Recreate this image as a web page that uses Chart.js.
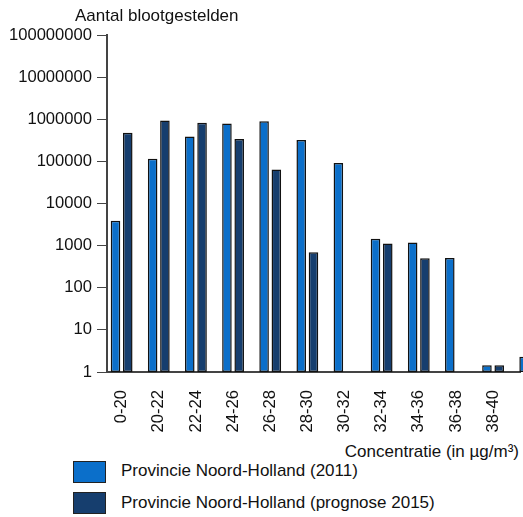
<!DOCTYPE html>
<html>
<head>
<meta charset="utf-8">
<script src="https://cdn.jsdelivr.net/npm/chart.js@4"></script>
<style>
    body { margin: 0; width: 523px; height: 517px; overflow: hidden; background: #fff;
           font-family: Arial, "Liberation Sans", sans-serif; color: #111; }
    #wrap { position: relative; width: 523px; height: 517px; }
    #expoChart { position: absolute; left: 0; top: 0; }
    .label { position: absolute; font-size: 17px; white-space: nowrap; line-height: 18px; }
    .box { position: absolute; width: 31px; height: 20px; border: 1px solid #222; }
</style>
</head>
<body>
<div id="wrap">
    <canvas id="expoChart" width="523" height="442"></canvas>
    <div class="label" style="left:75px; top:7px;">Aantal blootgestelden</div>
    <div class="label" style="right:4px; top:443px;">Concentratie (in µg/m³)</div>
    <div class="box" style="left:73px; top:461px; background:#0b6fca;"></div>
    <div class="label" style="left:121px; top:462px;">Provincie Noord-Holland (2011)</div>
    <div class="box" style="left:73px; top:492px; background:#163e6e;"></div>
    <div class="label" style="left:121px; top:494px;">Provincie Noord-Holland (prognose 2015)</div>
</div>
<script>
// Concentration classes (µg/m³) and number of exposed people per class
const categories = ['0-20', '20-22', '22-24', '24-26', '26-28', '28-30', '30-32', '32-34', '34-36', '36-38', '38-40', '40-42'];
const values2011 = [3900, 115000, 390000, 790000, 900000, 320000, 91000, 1450, 1180, 510, 1.45, 2.3];
const values2015 = [480000, 930000, 830000, 340000, 64000, 700, 1, 1120, 500, 1, 1.45, 2];
const yTicks = [1, 10, 100, 1000, 10000, 100000, 1000000, 10000000, 100000000];

const seriesNames = ['Provincie Noord-Holland (2011)', 'Provincie Noord-Holland (prognose 2015)'];

function toPoints(values) {
    return values.map((v, i) => ({ x: i, y: v }));
}

function renderChart() {
    const ctx = document.getElementById('expoChart').getContext('2d');
    Chart.defaults.font.family = 'Arial, "Liberation Sans", sans-serif';
    Chart.defaults.font.size = 16.6;
    Chart.defaults.color = '#111';

    new Chart(ctx, {
        type: 'bar',
        data: {
            datasets: [{
                label: seriesNames[0],
                data: toPoints(values2011),
                backgroundColor: '#0b6fca',
                borderColor: '#111',
                borderWidth: 1.5,
                borderSkipped: false,
                clip: false
            }, {
                label: seriesNames[1],
                data: toPoints(values2015),
                backgroundColor: '#163e6e',
                borderColor: '#111',
                borderWidth: 1.5,
                borderSkipped: false,
                clip: false
            }]
        },
        options: {
            responsive: false,
            animation: false,
            layout: { padding: { top: 35, left: 0, right: 0, bottom: 0 } },
            categoryPercentage: 0.66,
            barPercentage: 0.78,
            plugins: {
                legend: { display: false },
                tooltip: { enabled: false }
            },
            scales: {
                x: {
                    type: 'linear',
                    min: -0.394,
                    max: 10.75,
                    offset: false,
                    grid: { display: false },
                    border: { color: '#444', width: 2 },
                    ticks: {
                        stepSize: 1,
                        includeBounds: false,
                        autoSkip: false,
                        minRotation: 90,
                        maxRotation: 90,
                        padding: 10,
                        callback: v => Number.isInteger(v) ? categories[v] : ''
                    },
                    afterFit: scale => { scale.height = 70; }
                },
                y: {
                    type: 'logarithmic',
                    min: 1,
                    max: 100000000,
                    grid: { drawOnChartArea: false, color: '#444', tickLength: 10 },
                    border: { color: '#444', width: 2 },
                    ticks: {
                        padding: 5,
                        callback: v => v.toFixed(0)
                    },
                    afterBuildTicks: scale => { scale.ticks = yTicks.map(v => ({ value: v })); },
                    afterFit: scale => { scale.width = 107; }
                }
            }
        }
    });
}

document.addEventListener('DOMContentLoaded', function () {
    renderChart();
});
</script>
</body>
</html>
